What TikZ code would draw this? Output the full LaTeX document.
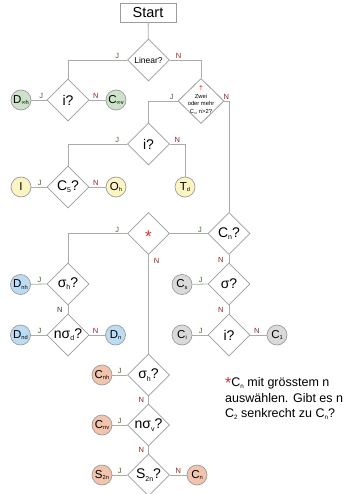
\documentclass[tikz,border=0pt]{standalone}
\usepackage{fontspec}
\setmainfont{Liberation Sans}
\usetikzlibrary{shapes.geometric}
\definecolor{lgray}{HTML}{ABABAB}
\definecolor{bgray}{HTML}{9C9C9C}
\definecolor{cgreen}{HTML}{CDE3C9}
\definecolor{cyellow}{HTML}{FCF5C2}
\definecolor{cblue}{HTML}{BCDCF3}
\definecolor{cgrey}{HTML}{DADADA}
\definecolor{csalmon}{HTML}{F2C3AD}
\definecolor{jgreen}{HTML}{3B6E2C}
\definecolor{nred}{HTML}{8A2626}
\definecolor{starred}{HTML}{D8312B}
\newcommand{\sbs}[1]{\raisebox{-0.3ex}{\scalebox{0.5}{#1}}}
\tikzset{
  conn/.style={draw=lgray, line width=0.8pt},
  dia/.style={diamond, draw=bgray, line width=0.8pt, fill=white, minimum width=42pt, minimum height=42pt, inner sep=0pt},
  dtext/.style={font=\fontsize{14}{14}\selectfont},
  circ/.style={circle, draw=bgray, line width=0.7pt, minimum size=20pt, inner sep=0pt, font=\fontsize{11.5}{12}\selectfont},
  startbox/.style={rectangle, draw=bgray, line width=0.8pt, minimum width=56pt, minimum height=19pt, inner sep=0pt, font=\fontsize{14.5}{15}\selectfont},
  jl/.style={font=\fontsize{7.5}{7.5}\selectfont, text=jgreen, inner sep=1pt},
  nl/.style={font=\fontsize{7.5}{7.5}\selectfont, text=nred, inner sep=1pt},
}
\begin{document}
\begin{tikzpicture}[x=1pt,y=-1pt]
\useasboundingbox (0,0) rectangle (349,494);
% nodes
\node[startbox] (start) at (148,12.5) {Start};
\node[dia, label={[font=\fontsize{8.5}{9}\selectfont]center:Linear?}] (lin) at (148.5,60) {};
\node[dia, label={[dtext]center:i?}] (i1) at (68,100) {};
\node[circ, fill=cgreen] (dooh) at (21,100) {D\sbs{∞h}};
\node[circ, fill=cgreen] (cinf) at (116,100) {C\sbs{∞v}};
\node[dia, minimum width=46pt, minimum height=45pt,
  label={[font=\fontsize{5.8}{7.4}\selectfont, align=center, yshift=1pt]center:{\color{red}\fontsize{7}{7.4}\selectfont †}\\Zwei\\oder mehr\\C\sbs{n}, n>2?}] (zwei) at (201,101) {};
\node[dia, label={[dtext]center:i?}] (i2) at (148.5,144) {};
\node[dia, label={[dtext]center:C\sbs{5}?}] (c5) at (68,187) {};
\node[circ, fill=cyellow] (ci) at (21,187) {I};
\node[circ, fill=cyellow] (oh) at (116,187) {O\sbs{h}};
\node[circ, fill=cyellow] (td) at (185,187) {T\sbs{d}};
\node[dia, label={[font=\fontsize{17}{17}\selectfont, text=starred, yshift=-3pt]center:*}] (star) at (148.5,233.5) {};
\node[dia, label={[dtext]center:C\sbs{n}?}] (cnq) at (229,233.5) {};
\node[dia, label={[dtext]center:σ\sbs{h}?}] (sh1) at (68,284) {};
\node[circ, fill=cblue] (dnh) at (20.5,284.5) {D\sbs{nh}};
\node[dia, label={[dtext]center:nσ\sbs{d}?}] (nsd) at (68,335) {};
\node[circ, fill=cblue] (dnd) at (20.5,335) {D\sbs{nd}};
\node[circ, fill=cblue] (dn) at (115.5,335) {D\sbs{n}};
\node[dia, label={[dtext]center:σ?}] (sg) at (229,284) {};
\node[circ, fill=cgrey] (cs) at (182,284.5) {C\sbs{s}};
\node[dia, label={[dtext]center:i?}] (i3) at (229,335) {};
\node[circ, fill=cgrey] (cci) at (182,335) {C\sbs{i}};
\node[circ, fill=cgrey] (c1) at (277,335) {C\sbs{1}};
\node[dia, label={[dtext]center:σ\sbs{h}?}] (sh2) at (148.5,375) {};
\node[circ, fill=csalmon] (cnh) at (102,375) {C\sbs{nh}};
\node[dia, label={[dtext]center:nσ\sbs{v}?}] (nsv) at (148.5,425) {};
\node[circ, fill=csalmon] (cnv) at (102,425) {C\sbs{nv}};
\node[dia, label={[dtext]center:S\sbs{2n}?}] (s2q) at (148.5,475) {};
\node[circ, fill=csalmon] (s2n) at (102,475) {S\sbs{2n}};
\node[circ, fill=csalmon] (cn) at (197,475) {C\sbs{n}};
\node[anchor=north west, inner sep=0pt, align=left, font=\fontsize{12.5}{15.5}\selectfont] (note) at (225,377)
  {{\color{starred}\fontsize{16}{12}\selectfont\raisebox{-0.15ex}{*}}C\sbs{n} mit grösstem n\\auswählen. Gibt es n\\C\sbs{2} senkrecht zu C\sbs{n}?};
% connectors
\draw[conn] (start) -- (lin);
\draw[conn] (lin.west) -| node[jl,pos=0.083,above]{J} (i1.north);
\draw[conn] (lin.east) -| node[nl,pos=0.14,above]{N} (zwei.north);
\draw[conn] (i1.west) -- node[jl,pos=0.35,above]{J} (dooh);
\draw[conn] (i1.east) -- node[nl,pos=0.4,above]{N} (cinf);
\draw[conn] (zwei.west) -| node[jl,pos=0.1,above]{J} (i2.north);
\draw[conn] (zwei.east) -| node[nl,pos=0.2,above]{N} (cnq.north);
\draw[conn] (i2.west) -| node[jl,pos=0.083,above]{J} (c5.north);
\draw[conn] (i2.east) -| node[nl,pos=0.25,above]{N} (td.north);
\draw[conn] (c5.west) -- node[jl,pos=0.45,above]{J} (ci);
\draw[conn] (c5.east) -- node[nl,pos=0.4,above]{N} (oh);
\draw[conn] (star.west) -| node[jl,pos=0.083,above]{J} (sh1.north);
\draw[conn] (star.east) -- node[jl,pos=0.8,above]{J} (cnq.west);
\draw[conn] (star.south) -- node[nl,pos=0.06,right=4pt]{N} (sh2.north);
\draw[conn] (sh1.west) -- node[jl,pos=0.45,above]{J} (dnh);
\draw[conn] (sh1.south) -- node[font=\fontsize{7.5}{7.5}\selectfont, text=black!80, inner sep=1pt, pos=0.55, left=4pt]{N} (nsd.north);
\draw[conn] (nsd.west) -- node[jl,pos=0.45,above]{J} (dnd);
\draw[conn] (nsd.east) -- node[nl,pos=0.4,above]{N} (dn);
\draw[conn] (cnq.south) -- node[nl,pos=0.6,left=4pt]{N} (sg.north);
\draw[conn] (sg.west) -- node[jl,pos=0.45,above]{J} (cs);
\draw[conn] (sg.south) -- node[nl,pos=0.5,left=4pt]{N} (i3.north);
\draw[conn] (i3.west) -- node[jl,pos=0.45,above]{J} (cci);
\draw[conn] (i3.east) -- node[nl,pos=0.4,above]{N} (c1);
\draw[conn] (sh2.west) -- node[jl,pos=0.5,above]{J} (cnh);
\draw[conn] (sh2.south) -- node[nl,pos=0.5,left=3pt]{N} (nsv.north);
\draw[conn] (nsv.west) -- node[jl,pos=0.5,above]{J} (cnv);
\draw[conn] (nsv.south) -- node[nl,pos=0.5,left=3pt]{N} (s2q.north);
\draw[conn] (s2q.west) -- node[jl,pos=0.5,above]{J} (s2n);
\draw[conn] (s2q.east) -- node[nl,pos=0.5,above]{N} (cn);
\end{tikzpicture}
\end{document}
